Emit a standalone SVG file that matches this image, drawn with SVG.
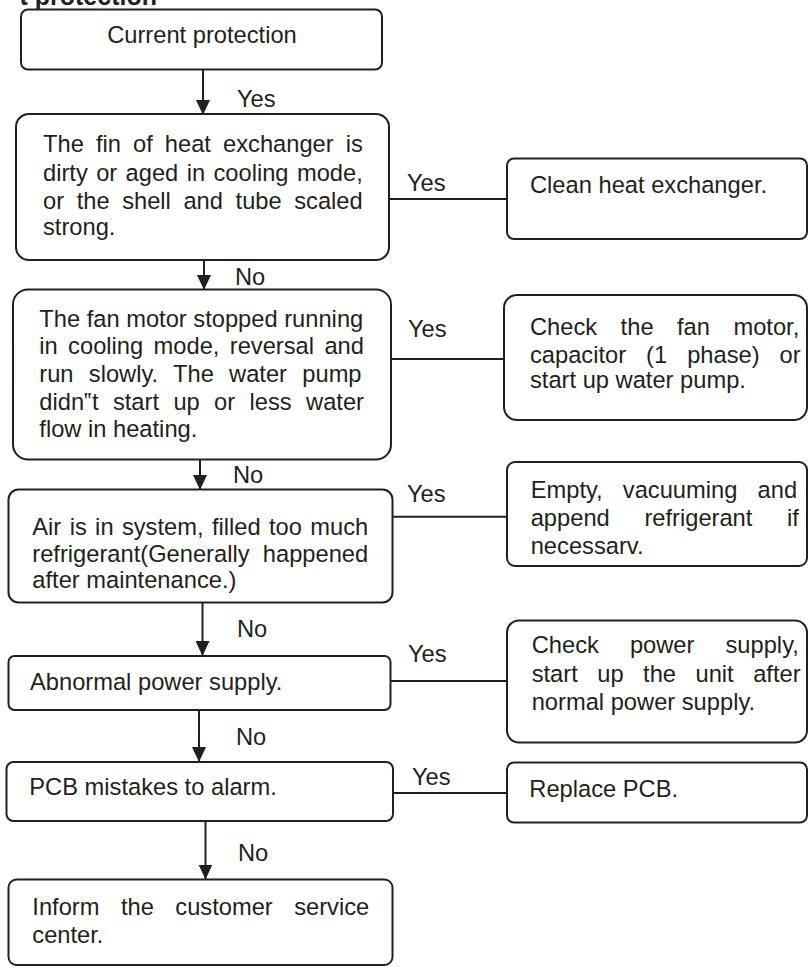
<svg xmlns="http://www.w3.org/2000/svg" width="809" height="967" viewBox="0 0 809 967">
<style>
.box{fill:#fff;stroke:#231f20;stroke-width:2}
.t{font-family:"Liberation Sans",Arial,sans-serif;font-size:23.7px;fill:#231f20}
.lbl{font-family:"Liberation Sans",Arial,sans-serif;font-size:23.7px;fill:#231f20}
.ln{stroke:#231f20;stroke-width:2;fill:none}
.title{font-family:"Liberation Sans",Arial,sans-serif;font-size:25px;font-weight:bold;fill:#231f20}
</style>
<defs>
<marker id="ah" markerUnits="userSpaceOnUse" markerWidth="16" markerHeight="14" refX="15" refY="7" orient="auto">
<path d="M0,0 L15,7 L0,14 z" fill="#231f20"/>
</marker>
</defs>
<rect width="809" height="967" fill="#fff"/>
<text class="title" x="157" y="5" text-anchor="end">t protection</text>

<g id="connectors">
<line class="ln" x1="203" y1="69.5" x2="203" y2="115" marker-end="url(#ah)"/>
<line class="ln" x1="204" y1="260" x2="204" y2="290" marker-end="url(#ah)"/>
<line class="ln" x1="200" y1="459.5" x2="200" y2="490" marker-end="url(#ah)"/>
<line class="ln" x1="202.5" y1="602.5" x2="202.5" y2="656" marker-end="url(#ah)"/>
<line class="ln" x1="199" y1="710" x2="199" y2="762" marker-end="url(#ah)"/>
<line class="ln" x1="205.5" y1="821" x2="205.5" y2="879.5" marker-end="url(#ah)"/>
<line class="ln" x1="389" y1="199" x2="507" y2="199"/>
<line class="ln" x1="391" y1="359" x2="504" y2="359"/>
<line class="ln" x1="392.5" y1="516.7" x2="507" y2="516.7"/>
<line class="ln" x1="390.5" y1="681" x2="507" y2="681"/>
<line class="ln" x1="393" y1="793" x2="507" y2="793"/>
<text class="lbl" x="237" y="107">Yes</text>
<text class="lbl" x="407" y="191">Yes</text>
<text class="lbl" x="408" y="337">Yes</text>
<text class="lbl" x="407" y="502">Yes</text>
<text class="lbl" x="408" y="662">Yes</text>
<text class="lbl" x="412" y="785">Yes</text>
<text class="lbl" x="235" y="285">No</text>
<text class="lbl" x="233" y="483">No</text>
<text class="lbl" x="237" y="637">No</text>
<text class="lbl" x="236" y="745">No</text>
<text class="lbl" x="238" y="861">No</text>
</g>

<g id="n1">
<rect class="box" x="21" y="9.5" width="361" height="60" rx="7"/>
<text class="t" x="202" y="43" text-anchor="middle">Current protection</text>
</g>
<g id="n2">
<rect class="box" x="16" y="114" width="373" height="146" rx="13"/>
<text class="t" x="43" y="152" style="word-spacing:5.5px">The fin of heat exchanger is</text>
<text class="t" x="43" y="181" style="word-spacing:1.8px">dirty or aged in cooling mode,</text>
<text class="t" x="43" y="209" style="word-spacing:6px">or the shell and tube scaled</text>
<text class="t" x="43" y="235">strong.</text>
</g>
<g id="n3">
<rect class="box" x="507" y="158.5" width="300" height="80.5" rx="7"/>
<text class="t" x="530" y="193">Clean heat exchanger.</text>
</g>
<g id="n4">
<rect class="box" x="13" y="289.5" width="378" height="170" rx="15"/>
<text class="t" x="39.3" y="327">The fan motor stopped running</text>
<text class="t" x="39.3" y="354" style="word-spacing:3.8px">in cooling mode, reversal and</text>
<text class="t" x="39.3" y="382" style="word-spacing:8.7px">run slowly. The water pump</text>
<text class="t" x="39.3" y="410" style="word-spacing:7.8px">didn‟t start up or less water</text>
<text class="t" x="39.3" y="437">flow in heating.</text>
</g>
<g id="n5">
<rect class="box" x="504" y="295" width="303" height="125" rx="13"/>
<text class="t" x="530" y="335" style="word-spacing:16.9px">Check the fan motor,</text>
<text class="t" x="530" y="362.7" style="word-spacing:13.4px">capacitor (1 phase) or</text>
<text class="t" x="530" y="387.5">start up water pump.</text>
</g>
<g id="n6">
<rect class="box" x="8.5" y="489.5" width="384" height="113" rx="10"/>
<text class="t" x="32.3" y="535" style="word-spacing:1.8px">Air is in system, filled too much</text>
<text class="t" x="32.3" y="561.5" style="word-spacing:6.7px">refrigerant(Generally happened</text>
<text class="t" x="32.3" y="588">after maintenance.)</text>
</g>
<g id="n7">
<rect class="box" x="507" y="462" width="300" height="104" rx="8"/>
<text class="t" x="530.7" y="497.5" style="word-spacing:13.6px">Empty, vacuuming and</text>
<text class="t" x="530.7" y="525.7" style="word-spacing:28.1px">append refrigerant if</text>
<text class="t" x="530.7" y="554">necessarv.</text>
</g>
<g id="n8">
<rect class="box" x="8.5" y="656" width="382" height="54" rx="6"/>
<text class="t" x="30" y="690">Abnormal power supply.</text>
</g>
<g id="n9">
<rect class="box" x="507" y="620.5" width="300" height="122" rx="12"/>
<text class="t" x="531.7" y="653.3" style="word-spacing:24.5px">Check power supply,</text>
<text class="t" x="531.7" y="681.7" style="word-spacing:12.9px">start up the unit after</text>
<text class="t" x="531.7" y="710">normal power supply.</text>
</g>
<g id="n10">
<rect class="box" x="6.5" y="762" width="386.5" height="59" rx="7"/>
<text class="t" x="29.3" y="795">PCB mistakes to alarm.</text>
</g>
<g id="n11">
<rect class="box" x="507" y="762.5" width="300" height="60" rx="7"/>
<text class="t" x="529.3" y="796.7">Replace PCB.</text>
</g>
<g id="n12">
<rect class="box" x="8.5" y="879.5" width="384" height="85.5" rx="8"/>
<text class="t" x="32.3" y="915" style="word-spacing:14.9px">Inform the customer service</text>
<text class="t" x="32.3" y="943.3">center.</text>
</g>
</svg>
